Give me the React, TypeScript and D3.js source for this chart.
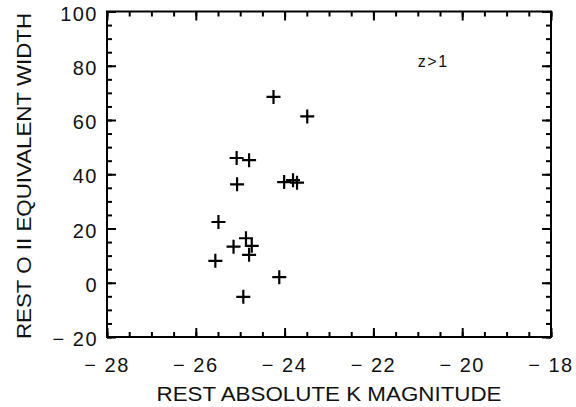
import { useRef, useEffect } from 'react';
import * as d3 from 'd3';

const magK = [
  -24.25, -23.49, -25.08, -24.8, -25.07, -24.01, -23.81, -23.72,
  -25.49, -24.87, -25.15, -24.74, -24.8, -25.56, -24.12, -24.93,
];
const ewOII = [
  68.5, 61.3, 46.0, 45.2, 36.3, 37.1, 37.8, 36.9,
  22.4, 16.4, 13.3, 13.6, 10.3, 8.1, 2.05, -5.2,
];
const xTicks = [-28, -26, -24, -22, -20, -18];
const yTicks = [-20, 0, 20, 40, 60, 80, 100];

const fmt = (v: number) => (v < 0 ? `\u2212 ${Math.abs(v)}` : `${v}`);

export default function App() {
  const svgRef = useRef<SVGSVGElement>(null);

  useEffect(() => {
    if (!svgRef.current) return;
    const svg = d3.select(svgRef.current);
    svg.selectAll('*').remove();

    const width = 576;
    const height = 407;
    const margin = { top: 11.5, right: 25, bottom: 70, left: 107 };
    const innerW = width - margin.left - margin.right;
    const innerH = height - margin.top - margin.bottom;
    const font = '"Liberation Sans", Arial, sans-serif';

    const x = d3.scaleLinear().domain([-28, -18]).range([0, innerW]);
    const y = d3.scaleLinear().domain([-20, 100]).range([innerH, 0]);

    const g = svg.append('g').attr('transform', `translate(${margin.left},${margin.top})`);

    const xMinor = d3.range(-28, -17.99, 0.5);
    const yMinor = d3.range(-20, 100.01, 5);

    const styleAxis = (sel: d3.Selection<SVGGElement, unknown, null, undefined>) => {
      sel.select('.domain').remove();
      sel.selectAll('line').attr('stroke', '#000').attr('stroke-width', 2);
      sel.selectAll('text').remove();
    };

    // minor + major ticks, all four sides, pointing inward
    g.append('g').attr('transform', `translate(0,${innerH})`)
      .call(d3.axisBottom(x).tickValues(xMinor).tickSize(-5)).call(styleAxis);
    g.append('g').attr('transform', `translate(0,${innerH})`)
      .call(d3.axisBottom(x).tickValues(xTicks).tickSize(-9)).call(styleAxis);
    g.append('g')
      .call(d3.axisTop(x).tickValues(xMinor).tickSize(-5)).call(styleAxis);
    g.append('g')
      .call(d3.axisTop(x).tickValues(xTicks).tickSize(-9)).call(styleAxis);
    g.append('g')
      .call(d3.axisLeft(y).tickValues(yMinor).tickSize(-5)).call(styleAxis);
    g.append('g')
      .call(d3.axisLeft(y).tickValues(yTicks).tickSize(-9)).call(styleAxis);
    g.append('g').attr('transform', `translate(${innerW},0)`)
      .call(d3.axisRight(y).tickValues(yMinor).tickSize(-5)).call(styleAxis);
    g.append('g').attr('transform', `translate(${innerW},0)`)
      .call(d3.axisRight(y).tickValues(yTicks).tickSize(-9)).call(styleAxis);

    // frame
    g.append('rect')
      .attr('x', 0).attr('y', 0)
      .attr('width', innerW).attr('height', innerH)
      .attr('fill', 'none').attr('stroke', '#000').attr('stroke-width', 2);

    // tick labels
    g.selectAll('.xl').data(xTicks).enter().append('text')
      .attr('x', (d) => x(d)).attr('y', innerH + 35)
      .attr('text-anchor', 'middle')
      .attr('font-family', font).attr('font-size', 20).attr('letter-spacing', 1.5)
      .attr('fill', '#111')
      .text(fmt);
    g.selectAll('.yl').data(yTicks).enter().append('text')
      .attr('x', -9).attr('y', (d) => y(d) + 9)
      .attr('text-anchor', 'end')
      .attr('font-family', font).attr('font-size', 20).attr('letter-spacing', 1.5)
      .attr('fill', '#111')
      .text(fmt);

    // crosses
    const s = 7;
    g.selectAll('.pt').data(magK).enter().append('path')
      .attr('d', (d, i) => {
        const px = x(d), py = y(ewOII[i]);
        return `M${px - s},${py}H${px + s}M${px},${py - s}V${py + s}`;
      })
      .attr('stroke', '#000').attr('stroke-width', 2.2).attr('fill', 'none');

    // annotation
    g.append('text')
      .attr('x', x(-21.0)).attr('y', y(79.4))
      .attr('font-family', font).attr('font-size', 16).attr('letter-spacing', 1.5)
      .attr('fill', '#111')
      .text('z>1');

    // axis titles
    svg.append('text')
      .attr('x', margin.left + innerW / 2).attr('y', 401)
      .attr('text-anchor', 'middle')
      .attr('font-family', font).attr('font-size', 21)
      .attr('textLength', 345).attr('lengthAdjust', 'spacingAndGlyphs')
      .attr('fill', '#111')
      .text('REST ABSOLUTE K MAGNITUDE');
    svg.append('text')
      .attr('transform', `translate(31, ${176}) rotate(-90)`)
      .attr('text-anchor', 'middle')
      .attr('font-family', font).attr('font-size', 21)
      .attr('textLength', 326).attr('lengthAdjust', 'spacingAndGlyphs')
      .attr('fill', '#111')
      .text('REST O II EQUIVALENT WIDTH');
  }, []);

  return (
    <svg
      ref={svgRef}
      width={576}
      height={407}
      style={{ position: 'absolute', left: 0, top: 0, background: '#fff' }}
    />
  );
}
